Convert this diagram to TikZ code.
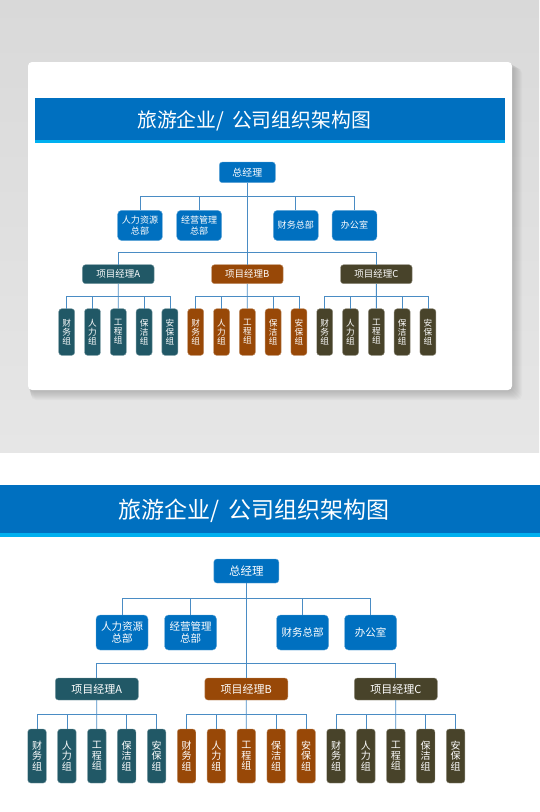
\documentclass[tikz,border=0pt]{standalone}
\usepackage{fontspec}
\setmainfont{Noto Sans CJK SC}

\definecolor{TitleBlue}{HTML}{0070C0}
\definecolor{StripCyan}{HTML}{00B0F0}
\definecolor{LinkBlue}{HTML}{4A8CC4}
\definecolor{TeamA}{HTML}{215866}
\definecolor{TeamB}{HTML}{984807}
\definecolor{TeamC}{HTML}{48432A}
\definecolor{BgTop}{HTML}{D9D9D9}
\definecolor{BgBottom}{HTML}{E6E6E6}

\newcommand{\orgchart}[1]{%
  \fill[TitleBlue] (0,485) rectangle (545,533);
  \fill[StripCyan] (0,533) rectangle (545,537);
  \node[TitleText, anchor=west] (#1title) at (118.5,511) {旅游企业/\hspace{9pt}公司组织架构图};
  \node[BossNode] (#1gm) at (246.3,571) {总经理};
  \node[DeptNode] (#1d1) at (122,632.5) {人力资源\\总部};
  \node[DeptNode] (#1d2) at (190.5,632.5) {经营管理\\总部};
  \node[DeptNode] (#1d3) at (302.5,632.5) {财务总部};
  \node[DeptNode] (#1d4) at (370.5,632.5) {办公室};
  \node[PMNode, fill=TeamA, draw=TeamA!60!white] (#1pma) at (96.8,689) {项目经理A};
  \node[PMNode, fill=TeamB, draw=TeamB!60!white] (#1pmb) at (246.3,689) {项目经理B};
  \node[PMNode, fill=TeamC, draw=TeamC!60!white] (#1pmc) at (395.8,689) {项目经理C};
  \draw[Link] (#1d1.north) -- ++(0,-16) -| (#1d4.north);
  \draw[Link] (#1d2.north) -- ++(0,-16);
  \draw[Link] (#1d3.north) -- ++(0,-16);
  \draw[Link] (#1gm.south) -- (#1pmb.north);
  \draw[Link] (#1pma.north) -- ++(0,-14) -| (#1pmc.north);
  \foreach \grp/\col [count=\g from 0] in {a/TeamA,b/TeamB,c/TeamC}{
    \foreach \txt [count=\i] in {{财\\务\\组},{人\\力\\组},{工\\程\\组},{保\\洁\\组},{安\\保\\组}}
      \node[LeafNode, fill=\col, draw=\col!60!white] (#1\grp\i) at ({37+29.9*(5*\g+\i-1)},756) {\txt};
    \draw[Link] (#1\grp1.north) -- ++(0,-14) -| (#1\grp5.north);
    \draw[Link] (#1\grp2.north) -- ++(0,-14);
    \draw[Link] (#1\grp4.north) -- ++(0,-14);
    \draw[Link] (#1pm\grp.south) -- (#1\grp3.north);
  }
}

\begin{document}
\begin{tikzpicture}
  [x=1pt, y=-1pt,
    BossNode/.style={rectangle, rounded corners=3pt, draw=TitleBlue!60!white, fill=TitleBlue, text=white, minimum width=65pt, minimum height=24pt, inner sep=0pt, font=\fontsize{11.5}{13}\selectfont},
    DeptNode/.style={rectangle, rounded corners=4pt, draw=TitleBlue!60!white, fill=TitleBlue, text=white, align=center, minimum width=52pt, minimum height=35pt, inner sep=0pt, font=\fontsize{10.5}{12.5}\selectfont},
    PMNode/.style={rectangle, rounded corners=3pt, text=white, minimum width=83pt, minimum height=22pt, inner sep=0pt, font=\fontsize{11}{13}\selectfont},
    LeafNode/.style={rectangle, rounded corners=3pt, text=white, align=center, minimum width=18.5pt, minimum height=54pt, inner sep=0pt, font=\fontsize{10}{10.5}\selectfont},
    Link/.style={draw=LinkBlue, line width=0.8pt},
    TitleText/.style={text=white, inner sep=0pt, font=\fontsize{23}{26}\selectfont}]
  \useasboundingbox (0,0) rectangle (539,812);
  \shade[top color=BgTop, bottom color=BgBottom] (0,0) rectangle (539,452);
  \foreach \d in {1,...,10}
    \fill[black, opacity=0.02, rounded corners=5pt] ({28+0.3*\d},{62+0.6*\d}) rectangle ({512+\d},{390+\d});
  \fill[white, rounded corners=4pt] (28,62) rectangle (512,390);
  \begin{scope}[shift={(34.77,-320.4)}, scale=0.863, transform shape]
    \orgchart{top}
  \end{scope}
  \orgchart{low}
\end{tikzpicture}
\end{document}
